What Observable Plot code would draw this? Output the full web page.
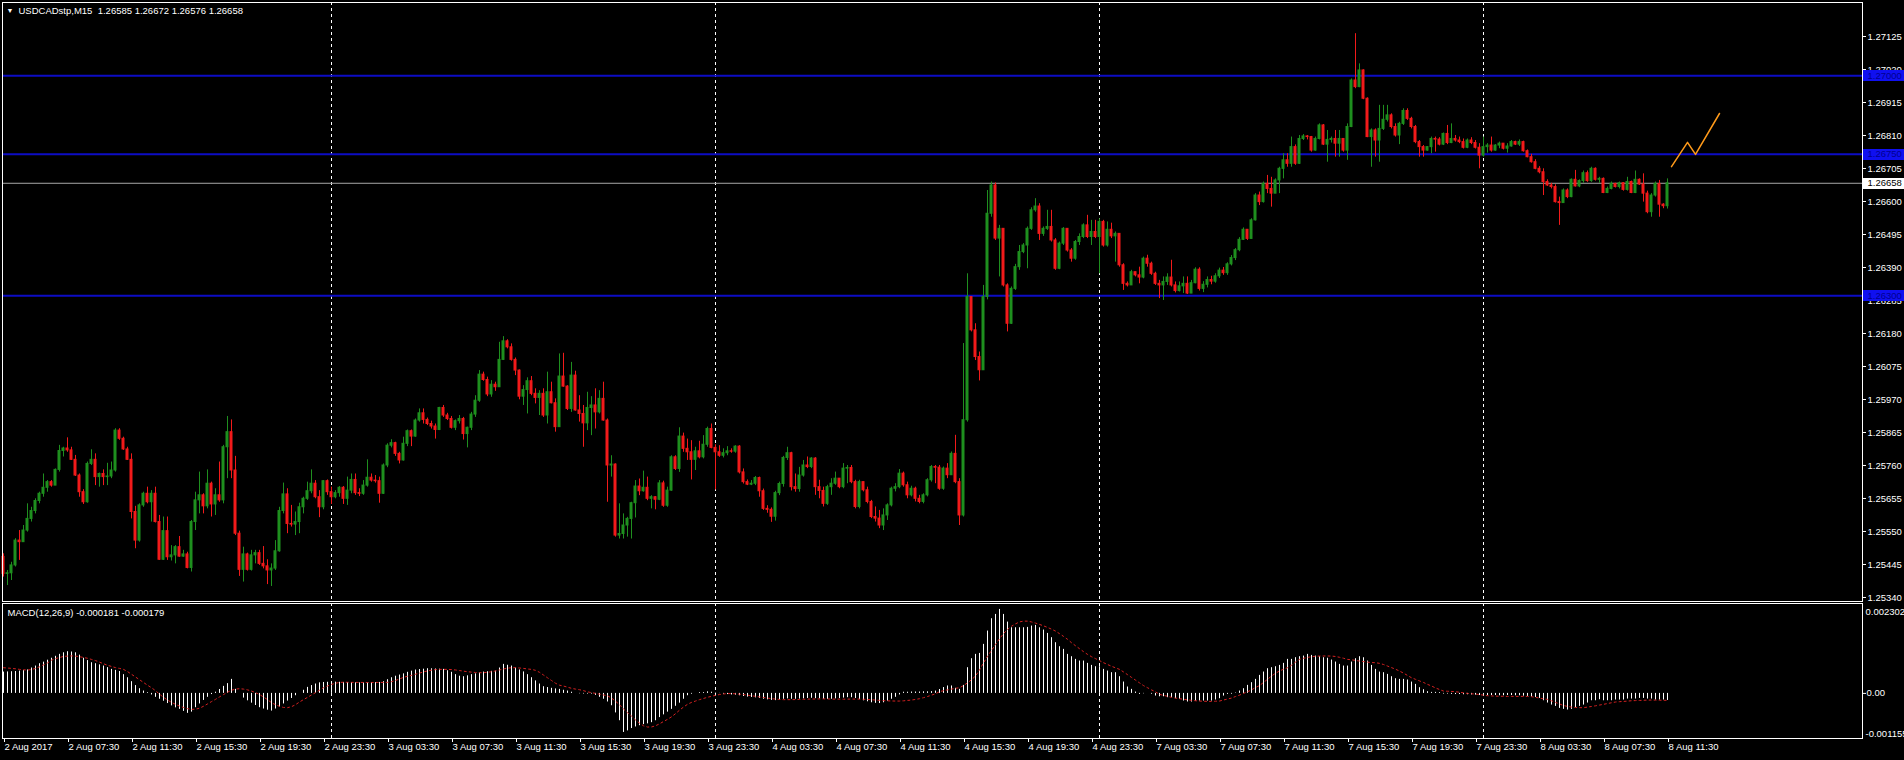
<!DOCTYPE html>
<html><head><meta charset="utf-8">
<script src="https://cdn.jsdelivr.net/npm/d3@7"></script>
<script src="https://cdn.jsdelivr.net/npm/@observablehq/plot@0.6"></script>
<style>
html,body{margin:0;padding:0;background:#000;overflow:hidden;}
#wrap{position:relative;width:1904px;height:760px;background:#000;}
#wrap svg{position:absolute;left:0;display:block;}
</style></head><body><div id="wrap"></div>
<script>
// ---------------- data ----------------
const symbolTitle = "USDCADstp,M15";
const lastBarOHLC = ["1.26585", "1.26672", "1.26576", "1.26658"];
const macdTitle = "MACD(12,26,9) -0.000181 -0.000179";

// bar index of time-axis ticks and their labels (M15 bars)
const timeTickBars = [0,16,32,48,64,80,96,112,128,144,160,176,192,208,224,240,256,272,288,304,320,336,352,368,384,400,416];
const timeTickLabels = ["2 Aug 2017","2 Aug 07:30","2 Aug 11:30","2 Aug 15:30","2 Aug 19:30","2 Aug 23:30",
  "3 Aug 03:30","3 Aug 07:30","3 Aug 11:30","3 Aug 15:30","3 Aug 19:30","3 Aug 23:30",
  "4 Aug 03:30","4 Aug 07:30","4 Aug 11:30","4 Aug 15:30","4 Aug 19:30","4 Aug 23:30",
  "7 Aug 03:30","7 Aug 07:30","7 Aug 11:30","7 Aug 15:30","7 Aug 19:30","7 Aug 23:30",
  "8 Aug 03:30","8 Aug 07:30","8 Aug 11:30"];
const daySeparatorBars = [82, 178, 274, 370];

const priceTicks = [1.25340,1.25445,1.25550,1.25655,1.25760,1.25865,1.25970,1.26075,1.26180,1.26285,1.26390,1.26495,1.26600,1.26705,1.26810,1.26915,1.27020,1.27125];
const levelLines = [1.27000, 1.26750, 1.26300];
const lastPrice = 1.26658;
const macdTicks = [0.002302, 0, -0.001155];

// OHLC in points (1e-5) above 1.20000
const openP = [5469,5415,5417,5442,5521,5516,5553,5590,5615,5647,
5670,5689,5707,5696,5746,5806,5814,5808,5778,5728,
5675,5643,5765,5778,5723,5733,5723,5725,5744,5871,
5845,5811,5778,5612,5521,5633,5670,5643,5670,5580,
5460,5551,5468,5474,5500,5470,5477,5434,5580,5649,
5665,5630,5702,5636,5665,5649,5818,5866,5744,5543,
5428,5477,5428,5474,5481,5447,5439,5426,5432,5487,
5615,5668,5574,5572,5580,5627,5654,5678,5702,5659,
5627,5710,5675,5659,5672,5689,5654,5680,5714,5672,
5670,5696,5721,5712,5710,5670,5760,5823,5831,5797,
5776,5829,5869,5852,5903,5926,5905,5892,5884,5873,
5943,5919,5908,5880,5901,5908,5860,5880,5922,5966,
6049,6032,5986,6017,6009,6096,6155,6136,6096,6062,
5979,6000,6028,5988,5975,5988,5919,5993,5958,5882,
6043,6011,5940,6046,5935,5924,5894,5943,5951,5929,
5972,5903,5760,5763,5537,5542,5569,5590,5640,5693,
5678,5689,5654,5659,5651,5703,5632,5680,5786,5749,
5852,5813,5802,5778,5805,5786,5826,5876,5816,5802,
5791,5799,5805,5804,5820,5738,5707,5699,5702,5720,
5678,5622,5619,5597,5672,5701,5784,5799,5691,5685,
5728,5760,5755,5782,5691,5679,5638,5691,5702,5718,
5691,5750,5752,5707,5628,5707,5681,5644,5596,5591,
5569,5601,5633,5686,5691,5734,5697,5665,5686,5654,
5644,5665,5713,5755,5753,5686,5750,5729,5797,5707,
5601,5904,6296,6190,6105,6063,6296,6561,6651,6482,
6513,6333,6211,6322,6391,6439,6460,6513,6572,6584,
6497,6513,6519,6476,6386,6466,6513,6444,6418,6471,
6487,6524,6487,6503,6487,6535,6460,6510,6489,6497,
6397,6338,6333,6375,6365,6358,6418,6402,6370,6338,
6333,6344,6358,6333,6315,6330,6338,6307,6340,6383,
6322,6335,6350,6345,6362,6380,6372,6400,6420,6445,
6478,6510,6481,6540,6619,6598,6656,6640,6625,6667,
6704,6731,6720,6773,6720,6799,6807,6805,6762,6799,
6842,6781,6796,6799,6784,6799,6762,6837,6985,6964,
7017,6927,6805,6826,6794,6831,6860,6874,6837,6810,
6847,6888,6863,6837,6789,6773,6762,6773,6799,6797,
6781,6815,6786,6799,6794,6789,6771,6794,6786,6771,
6746,6773,6778,6762,6778,6784,6768,6775,6789,6781,
6789,6760,6741,6725,6704,6693,6662,6651,6646,6598,
6595,6635,6614,6669,6648,6665,6690,6665,6704,6669,
6672,6627,6640,6656,6646,6658,6637,6662,6627,6669,
6654,6625,6566,6619,6656,6590,6585];
const highP = [5479,5426,5452,5527,5553,5569,5638,5627,5654,5675,
5733,5712,5712,5749,5824,5818,5848,5818,5792,5733,
5683,5771,5810,5797,5736,5746,5767,5771,5877,5877,
5850,5818,5797,5630,5638,5675,5691,5680,5691,5601,
5596,5596,5505,5505,5534,5490,5484,5585,5675,5739,
5670,5746,5707,5686,5771,5824,5916,5905,5789,5551,
5500,5481,5490,5490,5490,5502,5460,5447,5521,5627,
5704,5686,5633,5612,5640,5659,5707,5746,5712,5680,
5712,5714,5691,5680,5693,5693,5723,5733,5733,5686,
5712,5778,5733,5728,5723,5765,5829,5842,5834,5802,
5850,5873,5873,5908,5940,5940,5911,5901,5892,5945,
5951,5926,5916,5905,5919,5913,5882,5929,5982,6062,
6057,6041,6030,6025,6152,6170,6160,6147,6102,6064,
6014,6039,6043,6004,5998,6004,6057,6025,5972,6115,
6117,6014,6088,6060,5982,5951,5993,5979,6004,5998,
6025,5908,5791,5765,5638,5606,5595,5643,5712,5717,
5742,5723,5664,5661,5712,5710,5691,5791,5791,5880,
5863,5844,5839,5818,5837,5855,5882,5892,5826,5823,
5813,5820,5813,5823,5823,5749,5714,5712,5725,5723,
5685,5632,5625,5678,5707,5789,5818,5802,5733,5754,
5776,5787,5785,5785,5713,5691,5697,5718,5739,5718,
5766,5760,5760,5713,5713,5707,5691,5649,5628,5617,
5622,5638,5691,5702,5747,5739,5707,5694,5691,5665,
5670,5718,5760,5760,5760,5755,5766,5803,5856,5718,
6148,6370,6296,6211,6121,6333,6635,6662,6659,6524,
6513,6338,6328,6400,6460,6466,6519,6580,6609,6593,
6519,6572,6572,6482,6471,6517,6513,6450,6476,6497,
6529,6556,6540,6540,6545,6540,6535,6531,6503,6497,
6402,6344,6381,6375,6391,6423,6429,6407,6375,6349,
6360,6370,6413,6344,6344,6360,6360,6349,6389,6389,
6345,6360,6362,6370,6388,6390,6405,6428,6450,6485,
6516,6508,6545,6625,6630,6662,6683,6677,6672,6709,
6752,6752,6805,6780,6810,6813,6810,6807,6805,6847,
6845,6826,6805,6826,6826,6794,6847,6990,7134,7038,
7019,6930,6831,6831,6906,6906,6906,6879,6847,6852,
6895,6895,6868,6842,6794,6778,6775,6805,6805,6803,
6818,6842,6847,6810,6805,6799,6799,6803,6794,6784,
6805,6784,6805,6781,6789,6781,6784,6794,6792,6796,
6792,6764,6750,6733,6711,6704,6669,6658,6653,6614,
6640,6640,6672,6699,6669,6697,6697,6709,6707,6677,
6675,6646,6662,6658,6662,6660,6677,6665,6697,6672,
6688,6633,6625,6662,6667,6593,6672];
const lowP = [5405,5378,5394,5437,5458,5516,5548,5580,5606,5638,
5659,5675,5691,5696,5739,5787,5802,5776,5725,5659,
5636,5640,5760,5696,5691,5696,5696,5718,5739,5840,
5808,5776,5590,5495,5516,5627,5638,5580,5577,5458,
5458,5458,5456,5447,5468,5468,5431,5421,5553,5606,
5606,5622,5596,5601,5643,5638,5718,5718,5537,5407,
5389,5424,5424,5447,5442,5431,5381,5375,5426,5484,
5606,5543,5564,5537,5543,5606,5649,5670,5654,5594,
5619,5665,5636,5654,5659,5636,5633,5670,5665,5661,
5665,5691,5707,5704,5640,5668,5753,5816,5789,5765,
5774,5820,5820,5850,5898,5892,5887,5876,5844,5871,
5913,5903,5876,5871,5892,5841,5816,5871,5913,5961,
6028,5979,5977,5996,6009,6094,6131,6092,6046,5969,
5951,5924,5982,5956,5919,5913,5892,5956,5866,5882,
6009,5935,5929,5933,5898,5818,5871,5855,5876,5924,
5901,5643,5723,5532,5526,5526,5532,5526,5593,5664,
5675,5648,5622,5619,5648,5627,5627,5678,5744,5738,
5802,5776,5714,5744,5781,5781,5818,5813,5682,5786,
5784,5791,5799,5799,5733,5701,5696,5696,5696,5659,
5617,5608,5579,5583,5664,5691,5776,5679,5675,5675,
5723,5750,5750,5665,5654,5628,5633,5665,5697,5686,
5686,5702,5702,5622,5622,5676,5638,5591,5580,5559,
5553,5585,5628,5676,5686,5691,5654,5660,5644,5638,
5638,5660,5707,5702,5681,5681,5718,5729,5702,5569,
5596,5898,6185,6094,6029,6063,6287,6550,6476,6360,
6328,6185,6209,6317,6381,6434,6386,6508,6566,6476,
6489,6508,6471,6381,6383,6460,6439,6407,6413,6460,
6482,6482,6460,6482,6370,6455,6455,6482,6407,6391,
6317,6328,6333,6360,6338,6354,6391,6365,6333,6291,
6285,6333,6328,6309,6312,6307,6304,6307,6338,6315,
6310,6325,6335,6340,6355,6365,6365,6395,6412,6440,
6476,6476,6481,6538,6587,6595,6625,6582,6625,6625,
6672,6709,6709,6715,6718,6794,6796,6757,6760,6796,
6778,6725,6786,6741,6741,6757,6731,6835,6959,6962,
6924,6803,6709,6741,6725,6826,6853,6831,6805,6781,
6842,6858,6831,6784,6741,6741,6760,6752,6757,6777,
6778,6781,6784,6789,6784,6767,6768,6781,6767,6704,
6741,6754,6757,6760,6768,6764,6754,6773,6778,6775,
6757,6739,6722,6701,6688,6619,6648,6640,6595,6524,
6595,6609,6612,6646,6644,6658,6661,6661,6665,6658,
6625,6625,6637,6643,6640,6633,6633,6625,6625,6651,
6598,6561,6550,6614,6550,6577,6576];
const closeP = [5415,5417,5442,5521,5516,5553,5590,5615,5647,5670,
5689,5707,5696,5746,5806,5814,5808,5778,5728,5675,
5643,5765,5778,5723,5733,5723,5725,5744,5871,5845,
5811,5778,5612,5521,5633,5670,5643,5670,5580,5460,
5551,5468,5474,5500,5470,5477,5434,5580,5649,5665,
5630,5702,5636,5665,5649,5818,5866,5744,5543,5428,
5477,5428,5474,5481,5447,5439,5426,5432,5487,5615,
5668,5574,5572,5580,5627,5654,5678,5702,5659,5627,
5710,5675,5659,5672,5689,5654,5680,5714,5672,5670,
5696,5721,5712,5710,5670,5760,5823,5831,5797,5776,
5829,5869,5852,5903,5926,5905,5892,5884,5873,5943,
5919,5908,5880,5901,5908,5860,5880,5922,5966,6049,
6032,5986,6017,6009,6096,6155,6136,6096,6062,5979,
6000,6028,5988,5975,5988,5919,5993,5958,5882,6043,
6011,5940,6046,5935,5924,5894,5943,5951,5929,5972,
5903,5760,5763,5537,5542,5569,5590,5640,5693,5678,
5689,5654,5659,5651,5703,5632,5680,5786,5749,5852,
5813,5802,5778,5805,5786,5826,5876,5816,5802,5791,
5799,5805,5804,5820,5738,5707,5699,5702,5720,5678,
5622,5619,5597,5672,5701,5784,5799,5691,5685,5728,
5760,5755,5782,5691,5679,5638,5691,5702,5718,5691,
5750,5752,5707,5628,5707,5681,5644,5596,5591,5569,
5601,5633,5686,5691,5734,5697,5665,5686,5654,5644,
5665,5713,5755,5753,5686,5750,5729,5797,5707,5601,
5904,6296,6190,6105,6063,6296,6561,6651,6482,6513,
6333,6211,6322,6391,6439,6460,6513,6572,6584,6497,
6513,6519,6476,6386,6466,6513,6444,6418,6471,6487,
6524,6487,6503,6487,6535,6460,6510,6489,6497,6397,
6338,6333,6375,6365,6358,6418,6402,6370,6338,6333,
6344,6358,6333,6315,6330,6338,6307,6340,6383,6322,
6335,6350,6345,6362,6380,6372,6400,6420,6445,6478,
6510,6481,6540,6619,6598,6656,6640,6625,6667,6704,
6731,6720,6773,6720,6799,6807,6805,6762,6799,6842,
6781,6796,6799,6784,6799,6762,6837,6985,6964,7017,
6927,6805,6826,6794,6831,6860,6874,6837,6810,6847,
6888,6863,6837,6789,6773,6762,6773,6799,6797,6781,
6815,6786,6799,6794,6789,6771,6794,6786,6771,6746,
6773,6778,6762,6778,6784,6768,6775,6789,6781,6789,
6760,6741,6725,6704,6693,6662,6651,6646,6598,6595,
6635,6614,6669,6648,6665,6690,6665,6704,6669,6672,
6627,6640,6656,6646,6658,6637,6662,6627,6669,6654,
6625,6566,6619,6656,6590,6585,6658];

// MACD histogram and signal, in 1e-6
const macdMain = [546,550,555,560,570,585,600,650,700,760,
800,850,900,950,1000,1040,1067,1060,1040,980,
900,840,785,760,730,700,660,615,590,560,
480,401,300,200,120,60,18,-40,-100,-150,
-200,-260,-320,-370,-409,-460,-511,-480,-366,-270,
-180,-100,-30,30,100,180,250,359,103,0,
-120,-190,-250,-310,-366,-400,-430,-452,-400,-350,
-270,-196,-130,-60,0,80,154,200,240,270,
280,285,290,288,285,281,278,275,272,270,
270,272,275,278,281,300,350,401,440,470,
500,540,570,598,610,620,632,630,625,620,
615,580,540,480,440,427,450,480,500,525,
546,555,565,572,650,743,720,700,650,600,
550,480,401,320,240,171,150,130,115,103,
80,60,30,0,-10,-15,-17,-17,-50,-100,
-150,-220,-316,-500,-700,-1000,-960,-900,-860,-827,
-800,-780,-750,-700,-620,-550,-480,-409,-330,-250,
-150,-60,-20,0,20,20,40,30,10,-5,
-20,-30,-40,-45,-60,-80,-95,-105,-115,-130,
-150,-165,-180,-185,-170,-150,-140,-150,-150,-145,
-140,-130,-125,-135,-140,-150,-155,-150,-140,-135,
-120,-110,-110,-130,-160,-190,-215,-240,-255,-260,
-240,-200,-150,-100,-40,30,30,35,35,35,
40,40,45,60,100,150,190,190,130,103,
205,658,888,999,1024,1255,1596,1912,2022,2150,
2022,1826,1681,1681,1681,1681,1690,1724,1741,1681,
1622,1536,1426,1298,1195,1127,999,939,871,828,
828,769,717,683,683,615,572,530,530,427,
291,163,103,34,-25,-10,0,-20,-68,-86,
-86,-110,-110,-136,-153,-196,-221,-221,-196,-196,
-196,-196,-196,-170,-136,-68,-25,-20,10,60,
120,205,274,359,461,547,632,658,683,717,
769,871,871,914,939,956,999,973,956,939,
913,900,853,802,743,700,700,802,888,939,
913,828,717,615,546,530,487,427,376,359,
359,342,290,231,146,94,43,26,26,20,
-17,-17,-25,-30,-30,-35,-35,-40,-45,-55,
-60,-60,-55,-55,-60,-60,-55,-55,-60,-60,
-70,-77,-90,-105,-128,-188,-247,-299,-333,-384,
-409,-426,-409,-367,-333,-299,-247,-188,-188,-162,
-188,-188,-188,-170,-170,-170,-145,-145,-145,-128,
-128,-145,-145,-170,-170,-170,-181];
const macdSignal = [657,650,640,630,615,605,598,610,640,680,
730,780,850,890,920,945,956,960,955,940,
920,900,870,840,800,760,720,690,660,640,
615,560,490,420,350,280,210,146,70,-20,
-100,-170,-230,-280,-324,-360,-390,-409,-405,-380,
-330,-270,-210,-153,-90,-30,30,80,110,120,
110,90,60,20,-30,-90,-160,-238,-290,-330,
-360,-366,-340,-290,-220,-160,-102,-40,20,80,
146,190,230,260,281,285,285,283,282,281,
280,280,280,281,281,281,282,300,330,370,
410,440,461,490,520,550,575,595,610,615,
615,615,610,600,585,570,555,545,535,530,
530,540,555,575,600,625,645,658,660,650,
640,625,615,590,540,470,400,330,260,210,
188,160,130,110,94,70,40,20,0,-20,
-40,-60,-120,-200,-290,-400,-494,-580,-680,-760,
-830,-861,-860,-830,-780,-720,-665,-600,-520,-430,
-350,-280,-230,-196,-160,-130,-100,-75,-50,-30,
-15,-5,-5,-10,-20,-30,-45,-60,-75,-90,
-105,-120,-135,-145,-155,-160,-160,-160,-158,-155,
-150,-147,-145,-143,-142,-140,-142,-145,-147,-148,
-148,-147,-146,-145,-146,-150,-155,-162,-170,-178,
-185,-190,-194,-196,-196,-190,-180,-170,-155,-136,
-110,-80,-45,-10,43,70,90,110,130,146,
200,270,350,444,600,780,950,1100,1250,1400,
1530,1639,1720,1780,1830,1852,1850,1830,1800,1767,
1730,1690,1645,1596,1530,1460,1385,1298,1220,1145,
1070,999,940,890,840,786,740,695,655,615,
550,480,410,340,270,200,146,90,40,-25,
-50,-75,-100,-120,-136,-150,-165,-178,-188,-196,
-200,-205,-205,-200,-196,-170,-145,-120,-80,-45,
0,40,90,150,200,280,360,444,515,572,
620,658,720,800,871,900,920,940,950,956,
958,958,956,945,925,900,871,860,845,828,
815,800,790,785,770,740,700,660,620,572,
520,460,401,360,320,280,231,190,140,100,
60,55,50,43,30,15,0,-10,-17,-30,
-45,-60,-65,-70,-73,-75,-77,-77,-77,-77,
-77,-77,-85,-100,-120,-140,-153,-190,-230,-270,
-310,-333,-350,-360,-365,-367,-350,-335,-318,-299,
-280,-260,-240,-221,-212,-205,-198,-188,-184,-180,
-176,-172,-170,-172,-174,-176,-179];

// hand-drawn orange zig-zag after the last bar (bar index, price)
const arrowBars = [417, 421, 423, 429];
const arrowPrices = [1.26711, 1.26788, 1.26750, 1.26880];

// ---------------- drawing ----------------
const W = 1904, MAIN_H = 603, MACD_H = 157;
const ML = 2, MR = 42;
const X_DOMAIN = [-0.25, 464.75];
const FONT = "'Liberation Sans', Arial, sans-serif";
const BULL = "#1f8f1f", BEAR = "#f21a1a", DOJI = "#90ee90";
const LEVEL = "#0c0cc4", LEVEL_BG = "#1010f0", LEVEL_FG = "#000090";
const ORANGE = "#ff9a1a", SIGNAL = "#d42020";

const bars = closeP.map((c, i) => ({
  i, o: 1.2 + openP[i] / 1e5, h: 1.2 + highP[i] / 1e5, l: 1.2 + lowP[i] / 1e5, c: 1.2 + c / 1e5
}));
const color = d => d.c > d.o ? BULL : d.c < d.o ? BEAR : DOJI;
const arrow = arrowBars.map((b, k) => ({i: b, p: arrowPrices[k]}));
const macdRows = macdMain.map((m, i) => ({i, m: m / 1e6, s: macdSignal[i] / 1e6}));
const labelRows = [
  ...levelLines.map(v => ({v, t: v.toFixed(5), bg: LEVEL_BG, fg: LEVEL_FG})),
  {v: lastPrice, t: lastPrice.toFixed(5), bg: "#ffffff", fg: "#000000"}
];
const style = {background: "#000", color: "#fff", fontFamily: FONT, fontSize: "9.5px", overflow: "visible"};

const main = Plot.plot({
  width: W, height: MAIN_H,
  marginTop: 2, marginBottom: 2, marginLeft: ML, marginRight: MR,
  style,
  x: {domain: X_DOMAIN, axis: null},
  y: {domain: [1.253272, 1.272332]},
  marks: [
    Plot.ruleX(daySeparatorBars, {stroke: "#fff", strokeDasharray: "3,3"}),
    Plot.ruleY(levelLines, {stroke: LEVEL, strokeWidth: 2}),
    Plot.ruleY([lastPrice], {stroke: "#a8a8a8"}),
    Plot.ruleX(bars, {x: "i", y1: "l", y2: "h", stroke: color}),
    Plot.rect(bars, {x1: d => d.i - 0.25, x2: d => d.i + 0.25, y1: "o", y2: "c", fill: color, stroke: color}),
    Plot.line(arrow, {x: "i", y: "p", stroke: ORANGE, strokeWidth: 1.5}),
    Plot.frame({stroke: "#fff"}),
    Plot.axisY(priceTicks, {anchor: "right", label: null, tickSize: 3, tickPadding: 2, stroke: "#fff", fill: "#fff", tickFormat: d => d.toFixed(5)}),
    Plot.text(labelRows, {y: "v", text: "t", fill: "fg", frameAnchor: "right", textAnchor: "start", dx: 5}),
    Plot.text(["\u25BC"], {frameAnchor: "top-left", dx: 4, dy: 6, fill: "#fff", fontSize: 7}),
    Plot.text([symbolTitle + "\u00a0\u00a0" + lastBarOHLC.join(" ")], {frameAnchor: "top-left", dx: 16, dy: 5, fill: "#fff"})
  ]
});

const macd = Plot.plot({
  width: W, height: MACD_H,
  marginTop: 0, marginBottom: 22, marginLeft: ML, marginRight: MR,
  style,
  x: {domain: X_DOMAIN},
  y: {domain: [macdTicks[2], macdTicks[0]]},
  marks: [
    Plot.ruleX(daySeparatorBars, {stroke: "#fff", strokeDasharray: "3,3"}),
    Plot.ruleX(macdRows, {x: "i", y1: 0, y2: "m", stroke: "#fff"}),
    Plot.line(macdRows, {x: "i", y: "s", stroke: SIGNAL, strokeWidth: 1, strokeDasharray: "2,3"}),
    Plot.frame({stroke: "#fff"}),
    Plot.axisY([macdTicks[0]], {anchor: "right", label: null, tickSize: 0, tickPadding: 3, dy: 8, fill: "#fff", tickFormat: d => d.toFixed(6)}),
    Plot.axisY([macdTicks[1]], {anchor: "right", label: null, tickSize: 3, tickPadding: 1, stroke: "#fff", fill: "#fff", tickFormat: () => "0.00"}),
    Plot.axisY([macdTicks[2]], {anchor: "right", label: null, tickSize: 0, tickPadding: 3, dy: -5, fill: "#fff", tickFormat: d => d.toFixed(6)}),
    Plot.axisX(timeTickBars, {anchor: "bottom", label: null, tickSize: 4, tickPadding: 1, textAnchor: "start", dx: 1,
      stroke: "#fff", fill: "#fff", tickFormat: b => timeTickLabels[timeTickBars.indexOf(b)]}),
    Plot.text([macdTitle], {frameAnchor: "top-left", dx: 5, dy: 6, fill: "#fff"})
  ]
});

const wrap = document.getElementById("wrap");
main.style.top = "0px";
macd.style.top = MAIN_H + "px";
wrap.appendChild(main);
wrap.appendChild(macd);

// background boxes behind the right-axis price labels (drawn just under their texts)
const ys = main.scale("y");
const labelTexts = new Set(labelRows.map(d => d.t));
const labText = d3.select(main).selectAll("text").filter(function() { return labelTexts.has(this.textContent); }).node();
const labGroup = labText ? labText.parentNode : null;
const bg = labGroup ? d3.select(main).insert("g", () => labGroup) : d3.select(main).append("g");
bg.selectAll("rect").data(labelRows).join("rect")
  .attr("x", W - MR + 1).attr("width", MR - 1)
  .attr("y", d => Math.round(ys.apply(d.v)) - 5).attr("height", 11)
  .attr("fill", d => d.bg);
if (labGroup) d3.select(labGroup).raise();
</script></body></html>
